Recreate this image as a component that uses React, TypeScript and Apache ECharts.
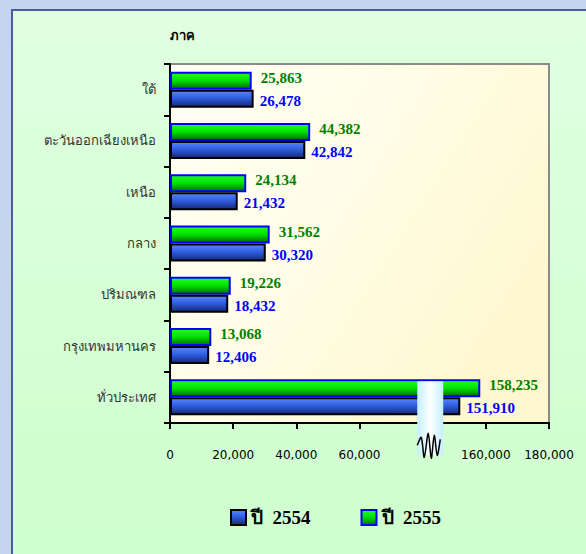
import React, { useEffect, useRef } from "react";
import * as echarts from "echarts";

// Categories from bottom to top (ECharts category y axis starts at the bottom)
const categories = [
  "ทั่วประเทศ",
  "กรุงเทพมหานคร",
  "ปริมณฑล",
  "กลาง",
  "เหนือ",
  "ตะวันออกเฉียงเหนือ",
  "ใต้",
];
const values2554 = [151910, 12406, 18432, 30320, 21432, 42842, 26478];
const values2555 = [158235, 13068, 19226, 31562, 24134, 44382, 25863];
const seriesNames = ["2554", "2555"];
// broken axis: real values between BREAK_FROM and BREAK_TO are cut out
const BREAK_FROM = 80000;
const BREAK_TO = 140000;
const axisTicks = [0, 20000, 40000, 60000, 80000, 100000, 120000];

const compress = (v: number) => (v > BREAK_FROM ? v - (BREAK_TO - BREAK_FROM) : v);
const realTick = (v: number) => {
  if (v === BREAK_FROM) return "";
  return v > BREAK_FROM ? v + (BREAK_TO - BREAK_FROM) : v;
};
const fmt = (n: number) => n.toLocaleString("en-US");

export default function App() {
  const ref = useRef<HTMLDivElement>(null);
  useEffect(() => {
    document.body.style.margin = "0";
    const chart = echarts.init(ref.current!, undefined, { renderer: "svg" });
    const blueFill = new echarts.graphic.LinearGradient(0, 0, 0, 1, [
      { offset: 0, color: "#5a86ff" },
      { offset: 0.45, color: "#2f5fe0" },
      { offset: 1, color: "#15287a" },
    ]);
    const greenFill = new echarts.graphic.LinearGradient(0, 0, 0, 1, [
      { offset: 0, color: "#22ff22" },
      { offset: 0.5, color: "#00e000" },
      { offset: 1, color: "#006a00" },
    ]);
    const labelFont = {
      fontFamily: "'Liberation Serif', 'Times New Roman', serif",
      fontWeight: "bold" as const,
      fontSize: 15,
    };
    chart.setOption({
      animation: false,
      backgroundColor: "#c5d5ee",
      grid: {
        left: 170,
        top: 64,
        width: 379,
        height: 359,
        show: true,
        borderColor: "#8a8a8a",
        borderWidth: 2,
        backgroundColor: new echarts.graphic.LinearGradient(0, 0, 1, 0.6, [
          { offset: 0, color: "#fffff6" },
          { offset: 0.5, color: "#fffde6" },
          { offset: 1, color: "#fff7cf" },
        ]),
      },
      xAxis: {
        type: "value",
        min: axisTicks[0],
        max: axisTicks[axisTicks.length - 1],
        interval: 20000,
        splitLine: { show: false },
        axisLine: { show: true, lineStyle: { color: "#000", width: 2 } },
        axisTick: { show: true, length: 6, lineStyle: { color: "#000", width: 2 } },
        axisLabel: {
          margin: 26,
          color: "#000",
          fontSize: 12,
          fontFamily: "Tahoma, 'DejaVu Sans', sans-serif",
          formatter: (v: number) => {
            const r = realTick(v);
            return r === "" ? "" : fmt(r as number);
          },
        },
      },
      yAxis: {
        type: "category",
        data: categories,
        name: "ภาค",
        nameLocation: "end",
        nameGap: 22,
        nameTextStyle: {
          color: "#000",
          fontWeight: "bold",
          fontSize: 13,
          align: "left",
          fontFamily: "Tahoma, 'DejaVu Sans', sans-serif",
        },
        axisLine: { show: true, lineStyle: { color: "#000", width: 2 } },
        axisTick: { show: true, length: 6, lineStyle: { color: "#000", width: 2 } },
        axisLabel: {
          margin: 14,
          color: "#333",
          fontSize: 13,
          fontFamily: "Tahoma, 'DejaVu Sans', sans-serif",
        },
      },
      legend: {
        top: 503,
        left: 225,
        itemWidth: 15,
        itemHeight: 15,
        itemGap: 50,
        icon: "rect",
        formatter: (n: string) => "ปี  " + n,
        textStyle: { color: "#000", ...labelFont, fontSize: 19 },
        data: seriesNames,
      },
      series: [
        {
          name: seriesNames[1],
          type: "bar",
          barWidth: 18,
          barGap: "0%",
          data: values2555.map(compress),
          itemStyle: { color: greenFill, borderColor: "#0000ff", borderWidth: 2 },
          label: {
            show: true,
            position: "right",
            distance: 9,
            offset: [0, -3],
            color: "#008000",
            ...labelFont,
            formatter: (p: any) => fmt(values2555[p.dataIndex]),
          },
        },
        {
          name: seriesNames[0],
          type: "bar",
          barWidth: 18,
          barGap: "0%",
          data: values2554.map(compress),
          itemStyle: { color: blueFill, borderColor: "#000", borderWidth: 2 },
          label: {
            show: true,
            position: "right",
            distance: 6,
            offset: [0, 2],
            color: "#0000ff",
            ...labelFont,
            formatter: (p: any) => fmt(values2554[p.dataIndex]),
          },
        },
      ],
    });
    const bx = chart.convertToPixel({ xAxisIndex: 0 }, 82400) as number;
    const by = chart.convertToPixel({ yAxisIndex: 0 }, 0) as number;
    const x0 = bx - 13;
    const yTop = by - 16;
    chart.setOption({
      graphic: [
        {
          type: "rect",
          z: -100,
          silent: true,
          shape: { x: 12, y: 10, width: 600, height: 600 },
          style: {
            fill: new echarts.graphic.LinearGradient(0, 0, 0, 1, [
              { offset: 0, color: "#e0ffe0" },
              { offset: 1, color: "#ccffcc" },
            ]),
            stroke: "#4d5aa6",
            lineWidth: 2,
          },
        },
        {
          type: "rect",
          z: 100,
          silent: true,
          shape: { x: x0, y: yTop, width: 26, height: 74 },
          style: {
            fill: new echarts.graphic.LinearGradient(0, 0, 1, 0, [
              { offset: 0, color: "#c4efff" },
              { offset: 0.5, color: "#ffffff" },
              { offset: 1, color: "#c4efff" },
            ]),
          },
        },
        {
          type: "polyline",
          z: 101,
          silent: true,
          shape: {
            points: [
              [x0, yTop + 64],
              [x0 + 4, yTop + 56],
              [x0 + 7, yTop + 76],
              [x0 + 11, yTop + 52],
              [x0 + 14, yTop + 77],
              [x0 + 17, yTop + 54],
              [x0 + 20, yTop + 74],
              [x0 + 23, yTop + 58],
            ],
            smooth: 0.3,
          },
          style: { stroke: "#000", lineWidth: 1.5, fill: "none" },
        },
      ],
    });
    return () => chart.dispose();
  }, []);
  return <div ref={ref} style={{ width: 586, height: 554 }} />;
}
